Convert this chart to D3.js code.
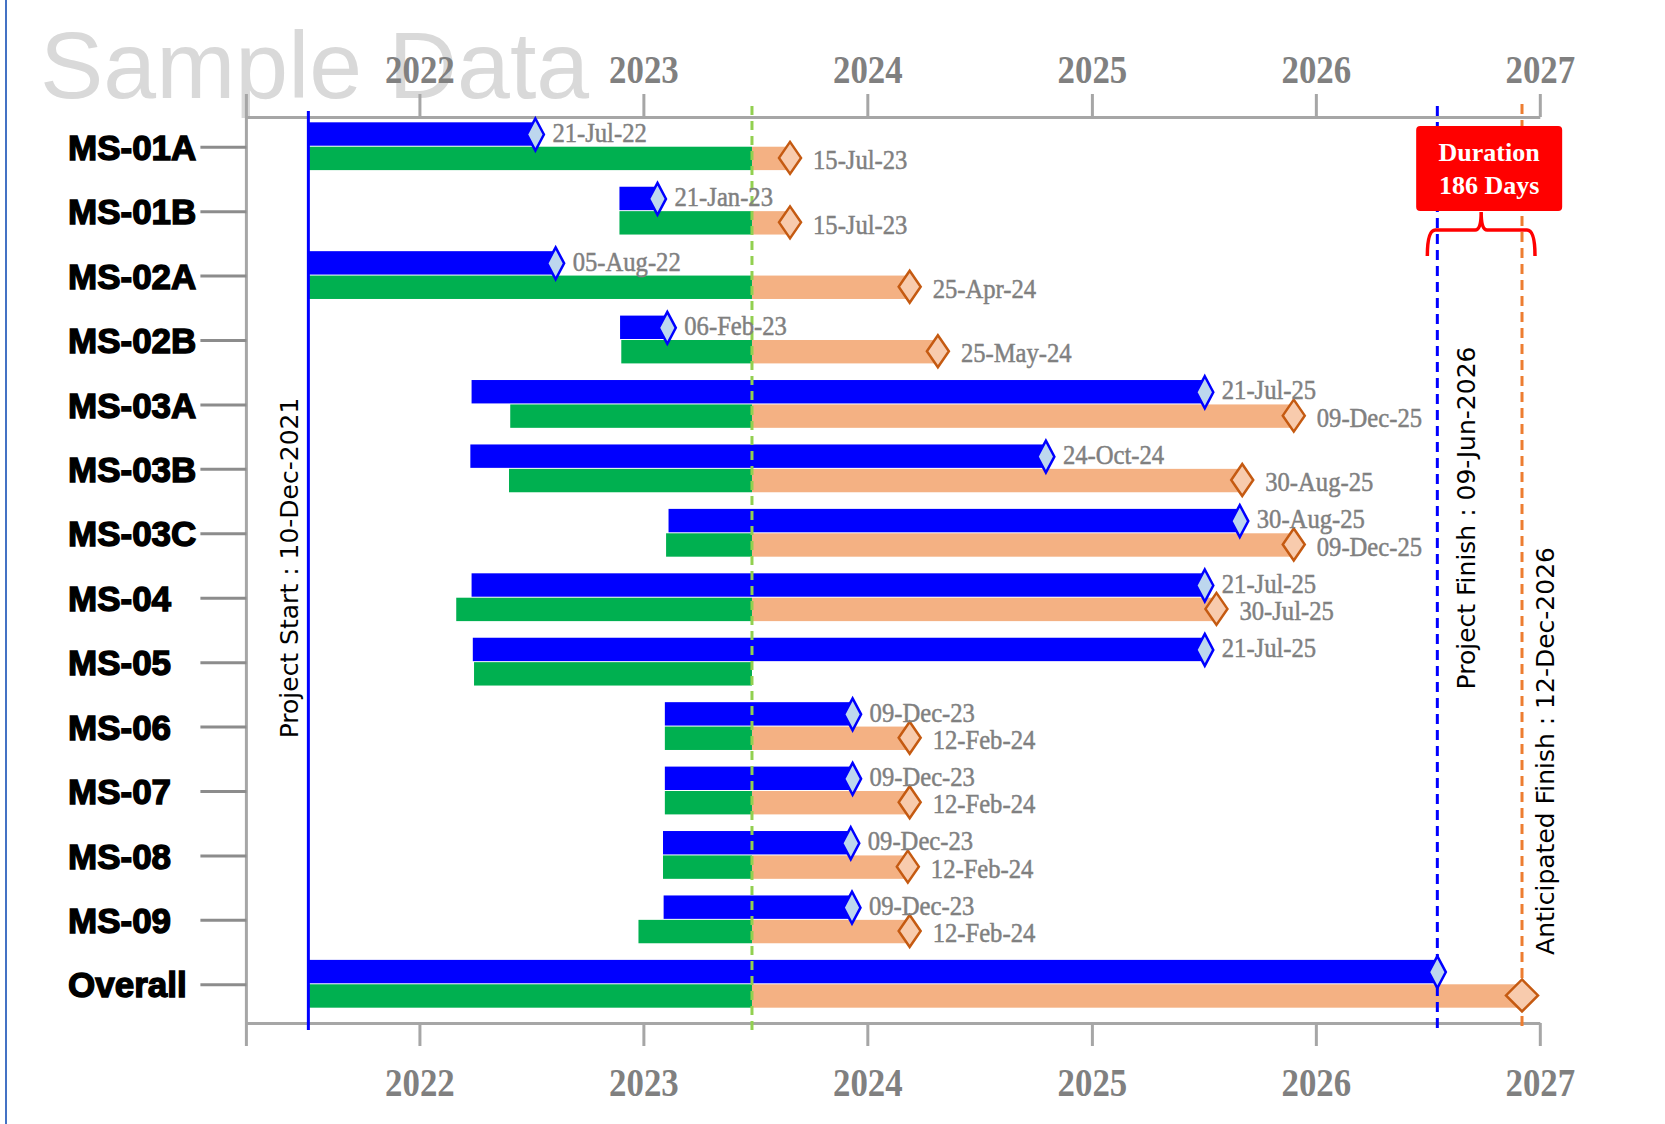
<!DOCTYPE html>
<html>
<head>
<meta charset="utf-8">
<script src="https://d3js.org/d3.v7.min.js"></script>
<style>
  body { margin: 0; background: #fff; }
  .axis path, .axis line { stroke: #a6a6a6; stroke-width: 3; }
  .axis text { fill: #808080; font-family: "Liberation Serif", serif; font-weight: bold; font-size: 41px; }
</style>
</head>
<body>
<svg class="chart"></svg>
<script>
// milestones, top to bottom
var milestones = ['MS-01A','MS-01B','MS-02A','MS-02B','MS-03A','MS-03B','MS-03C','MS-04','MS-05','MS-06','MS-07','MS-08','MS-09','Overall'];

// planned bar (blue)
var planStart  = ['2021-07-04','2022-11-23','2021-07-04','2022-11-24','2022-03-27','2022-03-25','2023-02-11','2022-03-27','2022-03-29','2023-02-05','2023-02-05','2023-02-02','2023-02-03','2021-07-04'];
var planFinish = ['2022-07-09','2023-01-24','2022-08-11','2023-02-09','2025-07-04','2024-10-18','2025-08-30','2025-07-04','2025-07-04','2023-12-08','2023-12-08','2023-12-05','2023-12-07','2026-07-18'];

// actual (green, up to status date) + forecast (orange, after status date)
var actualStart    = ['2021-07-04','2022-11-23','2021-07-04','2022-11-26','2022-05-29','2022-05-27','2023-02-07','2022-03-02','2022-03-31','2023-02-05','2023-02-05','2023-02-02','2022-12-24','2021-07-04'];
var forecastFinish = ['2023-08-28','2023-08-28','2024-03-10','2024-04-25','2025-11-26','2025-09-03','2025-11-26','2025-07-23',null,'2024-03-10','2024-03-10','2024-03-07','2024-03-10','2026-12-03'];

var planLabels     = ['21-Jul-22','21-Jan-23','05-Aug-22','06-Feb-23','21-Jul-25','24-Oct-24','30-Aug-25','21-Jul-25','21-Jul-25','09-Dec-23','09-Dec-23','09-Dec-23','09-Dec-23',''];
var forecastLabels = ['15-Jul-23','15-Jul-23','25-Apr-24','25-May-24','09-Dec-25','30-Aug-25','09-Dec-25','30-Jul-25','','12-Feb-24','12-Feb-24','12-Feb-24','12-Feb-24',''];

var yearTicks = [2022, 2023, 2024, 2025, 2026, 2027];

var projectStart = '2021-07-04';
var statusDate = '2023-06-27';
var projectFinish = '2026-07-18';
var anticipatedFinish = '2026-12-03';

var startText = 'Project Start : 10-Dec-2021';
var finishText = 'Project Finish : 09-Jun-2026';
var anticipatedText = 'Anticipated Finish : 12-Dec-2026';
var durationText = ['Duration', '186 Days'];

var parse = d3.timeParse('%Y-%m-%d');

var data = milestones.map(function(name, i) {
  return {
    name: name,
    planStart: parse(planStart[i]),
    planFinish: parse(planFinish[i]),
    actualStart: parse(actualStart[i]),
    forecastFinish: forecastFinish[i] ? parse(forecastFinish[i]) : null,
    planLabel: planLabels[i],
    forecastLabel: forecastLabels[i],
    last: i == milestones.length - 1
  };
});

var width = 1665, height = 1124;
var axisTopY = 117, axisBottomY = 1023, tickLen = 23;
var barHeight = 23.4;

var svg = d3.select('.chart')
    .attr('width', width)
    .attr('height', height);

// x - time scale
var x = d3.scaleTime()
    .domain([new Date(2021, 2, 25), new Date(2027, 0, 1)])
    .range([246.4, 1539.8]);

// y - milestone scale
var y = d3.scaleBand()
    .domain(milestones)
    .range([114, 1016]);

function yc(name) { return y(name) + y.bandwidth() / 2; }

var startDay = parse(projectStart),
    statusDay = parse(statusDate),
    finishDay = parse(projectFinish),
    anticipatedDay = parse(anticipatedFinish);

// frame edge on the left
svg.append('line')
    .attr('x1', 6).attr('x2', 6).attr('y1', 0).attr('y2', height)
    .attr('stroke', '#4472c4').attr('stroke-width', 2);

// watermark
svg.append('text')
    .attr('x', 40).attr('y', 98)
    .attr('fill', '#d9d9d9')
    .style('font-family', '"Liberation Sans", Arial, sans-serif')
    .style('font-size', '95px')
    .text('Sample Data');

// year axes, top and bottom
var yearDates = yearTicks.map(function(yr) { return new Date(yr, 0, 1); });

var xAxisTop = d3.axisTop(x)
    .tickValues(yearDates)
    .tickFormat(d3.timeFormat('%Y'))
    .tickSize(tickLen)
    .tickSizeOuter(0)
    .tickPadding(11);

var xAxisBottom = d3.axisBottom(x)
    .tickValues(yearDates)
    .tickFormat(d3.timeFormat('%Y'))
    .tickSize(tickLen)
    .tickSizeOuter(0)
    .tickPadding(21);

svg.append('g')
    .attr('class', 'x axis')
    .attr('transform', 'translate(0,' + axisTopY + ')')
    .call(xAxisTop);

svg.append('g')
    .attr('class', 'x axis')
    .attr('transform', 'translate(0,' + axisBottomY + ')')
    .call(xAxisBottom);

svg.selectAll('.x.axis text')
    .attr('transform', 'scale(0.85,1)');

// left axis line
svg.append('line')
    .attr('x1', x.range()[0]).attr('x2', x.range()[0])
    .attr('y1', axisTopY - tickLen).attr('y2', axisBottomY + tickLen)
    .attr('stroke', '#a6a6a6').attr('stroke-width', 3);

// milestone ticks and labels
var yAxis = d3.axisLeft(y)
    .tickSize(46)
    .tickSizeOuter(0)
    .tickFormat('');

var yg = svg.append('g')
    .attr('transform', 'translate(' + x.range()[0] + ',1)')
    .call(yAxis);
yg.select('.domain').remove();
yg.selectAll('line').attr('stroke', '#8c8c8c').attr('stroke-width', 3);

svg.selectAll('text.milestone')
    .data(data)
  .enter().append('text')
    .attr('class', 'milestone')
    .attr('x', 68)
    .attr('y', function(d) { return yc(d.name) + 1; })
    .attr('dy', '0.36em')
    .attr('fill', '#000')
    .attr('stroke', '#000')
    .attr('stroke-width', 1.4)
    .style('font-family', '"Liberation Sans", Arial, sans-serif')
    .style('font-weight', 'bold')
    .style('font-size', '35px')
    .text(function(d) { return d.name; });

// planned bars
svg.selectAll('rect.plan')
    .data(data)
  .enter().append('rect')
    .attr('class', 'plan')
    .attr('fill', '#0000ff')
    .attr('x', function(d) { return x(d.planStart); })
    .attr('width', function(d) { return x(d.planFinish) - x(d.planStart); })
    .attr('y', function(d) { return yc(d.name) - barHeight - 0.5; })
    .attr('height', barHeight);

// actual bars up to status date
svg.selectAll('rect.actual')
    .data(data)
  .enter().append('rect')
    .attr('class', 'actual')
    .attr('fill', '#00b050')
    .attr('x', function(d) { return x(d.actualStart); })
    .attr('width', function(d) { return x(statusDay) - x(d.actualStart); })
    .attr('y', function(d) { return yc(d.name) + 0.5; })
    .attr('height', barHeight);

// forecast bars after status date
svg.selectAll('rect.forecast')
    .data(data.filter(function(d) { return d.forecastFinish; }))
  .enter().append('rect')
    .attr('class', 'forecast')
    .attr('fill', '#f4b183')
    .attr('x', x(statusDay))
    .attr('width', function(d) { return x(d.forecastFinish) - x(statusDay); })
    .attr('y', function(d) { return yc(d.name) + 0.5; })
    .attr('height', barHeight);

// vertical marker lines
var lineTop = 106, lineBottom = 1030;

svg.append('line')
    .attr('x1', x(startDay)).attr('x2', x(startDay))
    .attr('y1', 111).attr('y2', lineBottom)
    .attr('stroke', '#0000ff').attr('stroke-width', 3);

svg.append('line')
    .attr('x1', x(statusDay)).attr('x2', x(statusDay))
    .attr('y1', lineTop).attr('y2', lineBottom)
    .attr('stroke', '#92d050').attr('stroke-width', 3)
    .attr('stroke-dasharray', '9,6');

svg.append('line')
    .attr('x1', x(finishDay)).attr('x2', x(finishDay))
    .attr('y1', lineTop).attr('y2', lineBottom - 2)
    .attr('stroke', '#0000ff').attr('stroke-width', 3)
    .attr('stroke-dasharray', '10,6');

svg.append('line')
    .attr('x1', x(anticipatedDay)).attr('x2', x(anticipatedDay))
    .attr('y1', lineTop - 2).attr('y2', lineBottom - 2)
    .attr('stroke', '#ed7d31').attr('stroke-width', 3)
    .attr('stroke-dasharray', '10,6');

// diamonds
function diamond(w, h) {
  return 'M0,' + (-h / 2) + 'L' + (w / 2) + ',0L0,' + (h / 2) + 'L' + (-w / 2) + ',0Z';
}

svg.selectAll('path.plandot')
    .data(data)
  .enter().append('path')
    .attr('class', 'plandot')
    .attr('d', diamond(17, 32))
    .attr('transform', function(d) {
      return 'translate(' + x(d.planFinish) + ',' + (yc(d.name) - barHeight / 2) + ')';
    })
    .attr('fill', '#bdd7ee')
    .attr('stroke', '#0000ff')
    .attr('stroke-width', 2.5);

svg.selectAll('path.fcdot')
    .data(data.filter(function(d) { return d.forecastFinish; }))
  .enter().append('path')
    .attr('class', 'fcdot')
    .attr('d', function(d) { return d.last ? diamond(32, 32) : diamond(22, 32); })
    .attr('transform', function(d) {
      return 'translate(' + x(d.forecastFinish) + ',' + (yc(d.name) + barHeight / 2) + ')';
    })
    .attr('fill', '#f8cbad')
    .attr('stroke', '#c55a11')
    .attr('stroke-width', 2.5);

// date labels
function dateLabel(sel) {
  sel.append('text')
    .attr('dy', '0.33em')
    .attr('transform', 'scale(0.88,1)')
    .attr('fill', '#808080')
    .attr('stroke', '#808080')
    .attr('stroke-width', 0.5)
    .style('font-family', '"Liberation Serif", serif')
    .style('font-size', '28px')
    .text(function(d) { return d.text; });
}

var labels = [];
data.forEach(function(d) {
  if (d.planLabel) labels.push({ x: x(d.planFinish) + 17, y: yc(d.name) - barHeight / 2 - 2, text: d.planLabel });
  if (d.forecastLabel) labels.push({ x: x(d.forecastFinish) + 23, y: yc(d.name) + barHeight / 2 + 2, text: d.forecastLabel });
});

svg.selectAll('g.datelabel')
    .data(labels)
  .enter().append('g')
    .attr('class', 'datelabel')
    .attr('transform', function(d) { return 'translate(' + d.x + ',' + d.y + ')'; })
    .call(dateLabel);

// vertical captions
function vtext(px, py, txt) {
  svg.append('text')
    .attr('transform', 'translate(' + px + ',' + py + ') rotate(-90)')
    .attr('text-anchor', 'middle')
    .attr('fill', '#000')
    .style('font-family', '"DejaVu Sans", sans-serif')
    .style('font-size', '25px')
    .text(txt);
}

vtext(x(startDay) - 10, 568, startText);
vtext(x(finishDay) + 38, 518, finishText);
vtext(x(anticipatedDay) + 32, 751, anticipatedText);

// duration call-out
var bx0 = x(finishDay) - 10,
    bx1 = x(anticipatedDay) + 13,
    bmid = (bx0 + bx1) / 2,
    tipY = 212, barY = 230, endY = 256;

svg.append('path')
    .attr('d', 'M' + bx0 + ',' + endY +
      'Q' + bx0 + ',' + barY + ' ' + (bx0 + 8) + ',' + barY +
      'L' + (bmid - 6) + ',' + barY +
      'Q' + bmid + ',' + barY + ' ' + bmid + ',' + tipY +
      'Q' + bmid + ',' + barY + ' ' + (bmid + 6) + ',' + barY +
      'L' + (bx1 - 8) + ',' + barY +
      'Q' + bx1 + ',' + barY + ' ' + bx1 + ',' + endY)
    .attr('fill', 'none')
    .attr('stroke', '#ff0000')
    .attr('stroke-width', 3.5);

var boxW = 146, boxH = 85, boxCx = bmid + 8;

svg.append('rect')
    .attr('x', boxCx - boxW / 2).attr('y', 126)
    .attr('width', boxW).attr('height', boxH)
    .attr('rx', 4)
    .attr('fill', '#ff0000');

svg.selectAll('text.duration')
    .data(durationText)
  .enter().append('text')
    .attr('class', 'duration')
    .attr('x', boxCx)
    .attr('y', function(d, i) { return 161 + i * 33; })
    .attr('text-anchor', 'middle')
    .attr('fill', '#fff')
    .style('font-family', '"Liberation Serif", serif')
    .style('font-weight', 'bold')
    .style('font-size', '26px')
    .text(function(d) { return d; });
</script>
</body>
</html>
